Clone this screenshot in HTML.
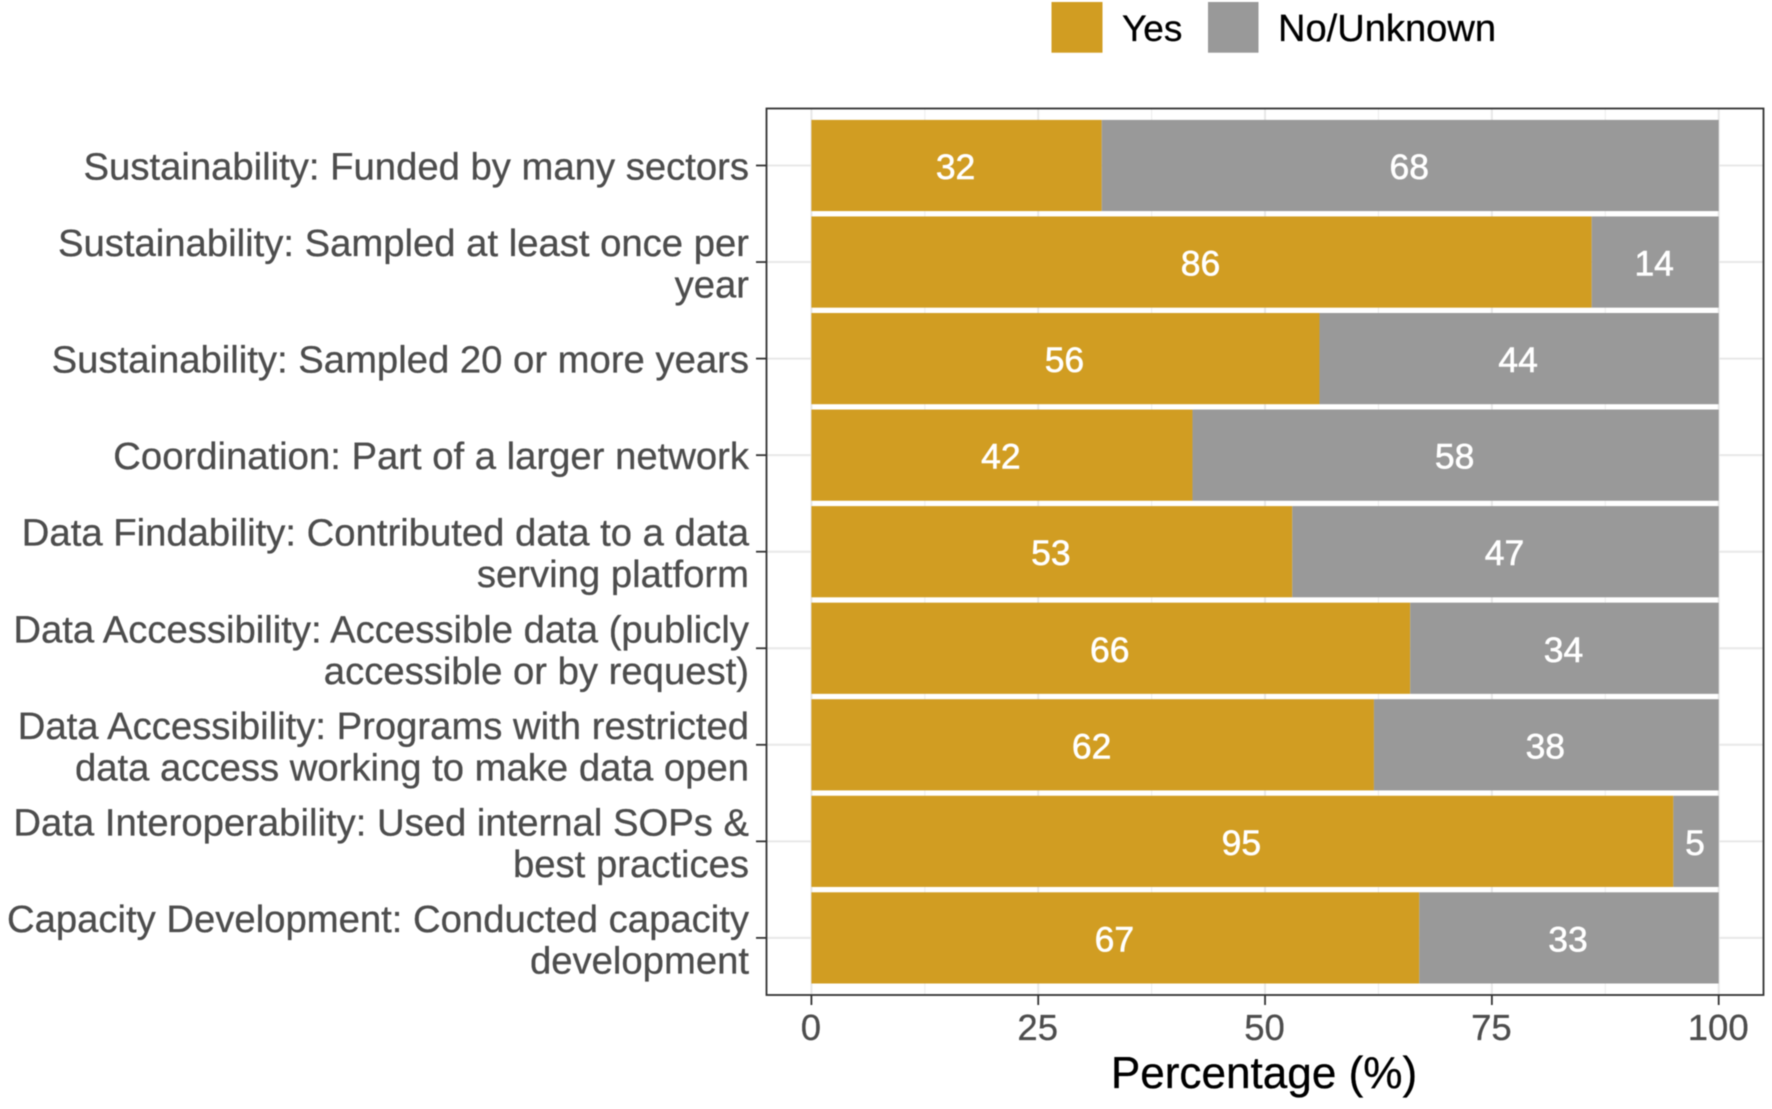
<!DOCTYPE html>
<html lang="en">
<head>
<meta charset="utf-8">
<title>Percentage of programs by criterion</title>
<style>
html,body{margin:0;padding:0;background:#fff;}
svg{display:block;font-family:"Liberation Sans",Arial,sans-serif;filter:blur(0.5px);}
</style>
</head>
<body>
<svg id="chart" xmlns="http://www.w3.org/2000/svg" width="1772" height="1109" viewBox="0 0 1772 1109">
  <rect x="0" y="0" width="1772" height="1109" fill="#ffffff"/>
  <g id="grid"></g>
  <g id="bars"></g>
  <rect x="766.5" y="108.5" width="997" height="886.5" fill="none" stroke="#333333" stroke-width="1.8"/>
  <g id="axes"></g>
  <text x="1264" y="1088" font-size="44.1" fill="#000000" stroke="#000000" stroke-width="0.3" text-anchor="middle">Percentage (%)</text>
  <g>
    <rect x="1051.5" y="2" width="51" height="50.7" fill="#D19D22"/>
    <text x="1122" y="41" font-size="37" fill="#000000" stroke="#000000" stroke-width="0.3">Yes</text>
    <rect x="1208" y="2" width="50.5" height="50.7" fill="#999999"/>
    <text x="1278" y="41" font-size="38.1" fill="#000000" stroke="#000000" stroke-width="0.3">No/Unknown</text>
  </g>
</svg>
<script>
const categoryLines = [
  ["Sustainability: Funded by many sectors"],
  ["Sustainability: Sampled at least once per", "year"],
  ["Sustainability: Sampled 20 or more years"],
  ["Coordination: Part of a larger network"],
  ["Data Findability: Contributed data to a data", "serving platform"],
  ["Data Accessibility: Accessible data (publicly", "accessible or by request)"],
  ["Data Accessibility: Programs with restricted", "data access working to make data open"],
  ["Data Interoperability: Used internal SOPs &", "best practices"],
  ["Capacity Development: Conducted capacity", "development"]
];
const yesValues = [32, 86, 56, 42, 53, 66, 62, 95, 67];
const noValues = [68, 14, 44, 58, 47, 34, 38, 5, 33];
const xTickValues = [0, 25, 50, 75, 100];
const xMinorValues = [12.5, 37.5, 62.5, 87.5];

const NS = "http://www.w3.org/2000/svg";
const plot = { left: 767, right: 1763, top: 109, bottom: 995, x0: 811.4, x100: 1718.7, y0: 165.5, step: 96.55, barH: 91.2 };
const xScale = function (v) { return plot.x0 + (plot.x100 - plot.x0) * v / 100; };
const yScale = function (i) { return plot.y0 + plot.step * i; };

function make(parent, tag, attrs, text) {
  const el = document.createElementNS(NS, tag);
  Object.keys(attrs).forEach(function (k) { el.setAttribute(k, attrs[k]); });
  if (text !== undefined) el.textContent = text;
  parent.appendChild(el);
  return el;
}

const gridG = document.getElementById("grid");
const barsG = document.getElementById("bars");
const axesG = document.getElementById("axes");

xMinorValues.forEach(function (v) {
  const line = make(gridG, "line", { x1: xScale(v), x2: xScale(v), y1: plot.top, y2: plot.bottom, stroke: "#ececec", "stroke-width": 1 });
  
  
});
xTickValues.forEach(function (v) {
  const line = make(gridG, "line", { x1: xScale(v), x2: xScale(v), y1: plot.top, y2: plot.bottom, stroke: "#e8e8e8", "stroke-width": 2 });
  
  

  const tick = make(axesG, "line", { x1: xScale(v), x2: xScale(v), y1: plot.bottom, y2: plot.bottom + 10, stroke: "#333333", "stroke-width": 1.8 });
  
  

  const label = make(axesG, "text", { x: xScale(v) - 0.5, y: 1040, "font-size": 36.5, fill: "#4d4d4d", stroke: "#4d4d4d", "stroke-width": 0.3, "text-anchor": "middle" }, String(v));
  
  
});

categoryLines.forEach(function (lines, i) {
  const cy = yScale(i);

  const gridLine = make(gridG, "line", { x1: plot.left, x2: plot.right, y1: cy, y2: cy, stroke: "#e8e8e8", "stroke-width": 2 });
  
  

  const tick = make(axesG, "line", { x1: 756, x2: plot.left, y1: cy, y2: cy, stroke: "#333333", "stroke-width": 1.8 });
  
  

  const label = make(axesG, "text", { "font-size": 38.25, fill: "#4d4d4d", stroke: "#4d4d4d", "stroke-width": 0.3, "text-anchor": "end" });
  
  
  lines.forEach(function (txt, j) {
    const dy = lines.length === 1 ? 14 : (j === 0 ? -6 : 35.5);
    const ts = make(label, "tspan", { x: 749, y: cy + dy }, txt);
    
    
  });

  const top = cy - plot.barH / 2;
  const yesW = xScale(yesValues[i]) - xScale(0);
  const noW = xScale(yesValues[i] + noValues[i]) - xScale(yesValues[i]);

  const yesBar = make(barsG, "rect", { x: xScale(0), y: top, width: yesW, height: plot.barH, fill: "#D19D22" });
  
  

  const noBar = make(barsG, "rect", { x: xScale(yesValues[i]), y: top, width: noW, height: plot.barH, fill: "#999999" });
  
  

  const yesLabel = make(barsG, "text", { x: xScale(yesValues[i] / 2) - 1, y: cy + 13.5, "font-size": 35.5, fill: "#ffffff", stroke: "#ffffff", "stroke-width": 0.6, "text-anchor": "middle" }, String(yesValues[i]));
  
  

  const noLabel = make(barsG, "text", { x: xScale(yesValues[i] + noValues[i] / 2) - 1, y: cy + 13.5, "font-size": 35.5, fill: "#ffffff", stroke: "#ffffff", "stroke-width": 0.6, "text-anchor": "middle" }, String(noValues[i]));
  
  
});
</script>
</body>
</html>
